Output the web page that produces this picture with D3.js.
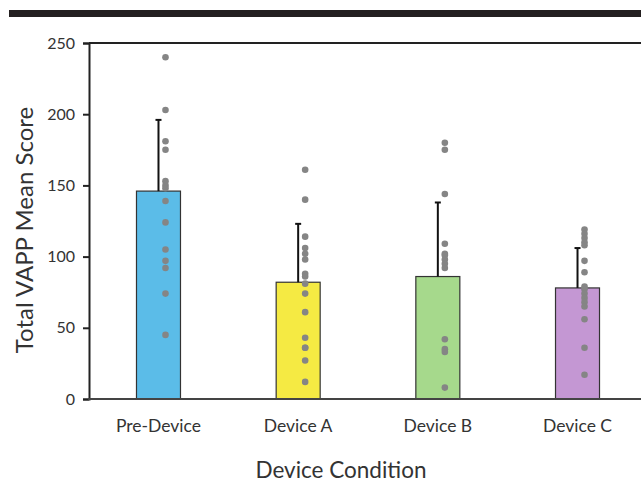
<!DOCTYPE html>
<html>
<head>
<meta charset="utf-8">
<script src="https://cdn.jsdelivr.net/npm/d3@7"></script>
<style>
  body { margin: 0; background: #fff; }
  svg text { font-family: Lato, "Open Sans", sans-serif; fill: #333; }
</style>
</head>
<body>
<svg width="641" height="490"></svg>
<script>
// chart values
const conditions = ["Pre-Device", "Device A", "Device B", "Device C"];
const means = [146, 82, 86, 78];
const sdTops = [196, 123, 138, 106];
const barColors = ["#5bbce8", "#f5ea43", "#a6d98c", "#c497d3"];
const preDots = [240, 203, 181, 175, 153, 150, 148, 139, 124, 105, 97, 92, 74, 45];
const aDots = [161, 140, 114, 106, 102, 98, 88, 86, 81, 74, 61, 43, 36, 36, 27, 12];
const bDots = [180, 175, 144, 109, 102, 101, 98, 95, 92, 42, 35, 33, 8];
const cDots = [119, 116, 113, 110, 108, 97, 89, 79, 77, 74, 71, 68, 65, 56, 36, 17];
const yTicks = [0, 50, 100, 150, 200, 250];

const dots = [preDots, aDots, bDots, cDots];

const svg = d3.select("svg");
const plotLeft = 89, plotTop = 43, plotBottom = 399;

const x = d3.scaleBand().domain(conditions).range([plotLeft, 647]).paddingInner(0.685).paddingOuter(0.34);
const y = d3.scaleLinear().domain([0, 250]).range([plotBottom, plotTop]);

// heavy rule at the top of the figure
svg.append("rect").attr("x", 9).attr("y", 10).attr("width", 640).attr("height", 7).attr("fill", "#231f20");

// frame line at top
svg.append("line").attr("x1", plotLeft).attr("x2", 641).attr("y1", plotTop).attr("y2", plotTop)
  .attr("stroke", "#222").attr("stroke-width", 2);

// y axis
const yAxis = svg.append("g").attr("transform", `translate(${plotLeft},0)`)
  .call(d3.axisLeft(y).tickValues(yTicks).tickSize(6).tickPadding(8));
yAxis.select(".domain").attr("stroke", "#222").attr("stroke-width", 2);
yAxis.selectAll(".tick line").attr("stroke", "#222").attr("stroke-width", 2);
yAxis.selectAll(".tick text").attr("font-size", 16).attr("fill", "#333")
  .style("font-family", "Lato, 'Open Sans', sans-serif");

// bars
const bw = 44;
svg.append("g").selectAll("rect")
  .data(conditions)
  .join("rect")
  .attr("x", d => x(d) + x.bandwidth() / 2 - bw / 2)
  .attr("y", (d, i) => y(means[i]))
  .attr("width", bw)
  .attr("height", (d, i) => y(0) - y(means[i]))
  .attr("fill", (d, i) => barColors[i])
  .attr("stroke", "#333")
  .attr("stroke-width", 1.2);

// error bars (upper only)
const eb = svg.append("g").attr("stroke", "#111").attr("stroke-width", 2);
conditions.forEach((c, i) => {
  const cx = x(c) + x.bandwidth() / 2;
  eb.append("line").attr("x1", cx).attr("x2", cx).attr("y1", y(means[i])).attr("y2", y(sdTops[i]));
  eb.append("line").attr("x1", cx - 3).attr("x2", cx + 3).attr("y1", y(sdTops[i])).attr("y2", y(sdTops[i]));
});

// bottom axis line
svg.append("line").attr("x1", plotLeft - 1).attr("x2", 641).attr("y1", plotBottom).attr("y2", plotBottom)
  .attr("stroke", "#444").attr("stroke-width", 2);

// individual points
conditions.forEach((c, i) => {
  const cx = x(c) + x.bandwidth() / 2 + 7;
  svg.append("g").selectAll("circle")
    .data(dots[i])
    .join("circle")
    .attr("cx", cx)
    .attr("cy", d => y(d))
    .attr("r", 3.3)
    .attr("fill", "#858585");
});

// category labels
svg.append("g").selectAll("text")
  .data(conditions)
  .join("text")
  .attr("x", d => x(d) + x.bandwidth() / 2)
  .attr("y", 432)
  .attr("text-anchor", "middle")
  .attr("font-size", 17.5)
  .text(d => d);

// axis titles
svg.append("text")
  .attr("x", 341).attr("y", 478)
  .attr("text-anchor", "middle")
  .attr("font-size", 22.5)
  .text("Device Condition");

svg.append("text")
  .attr("transform", "translate(33,230) rotate(-90)")
  .attr("text-anchor", "middle")
  .attr("font-size", 24)
  .text("Total VAPP Mean Score");
</script>
</body>
</html>
